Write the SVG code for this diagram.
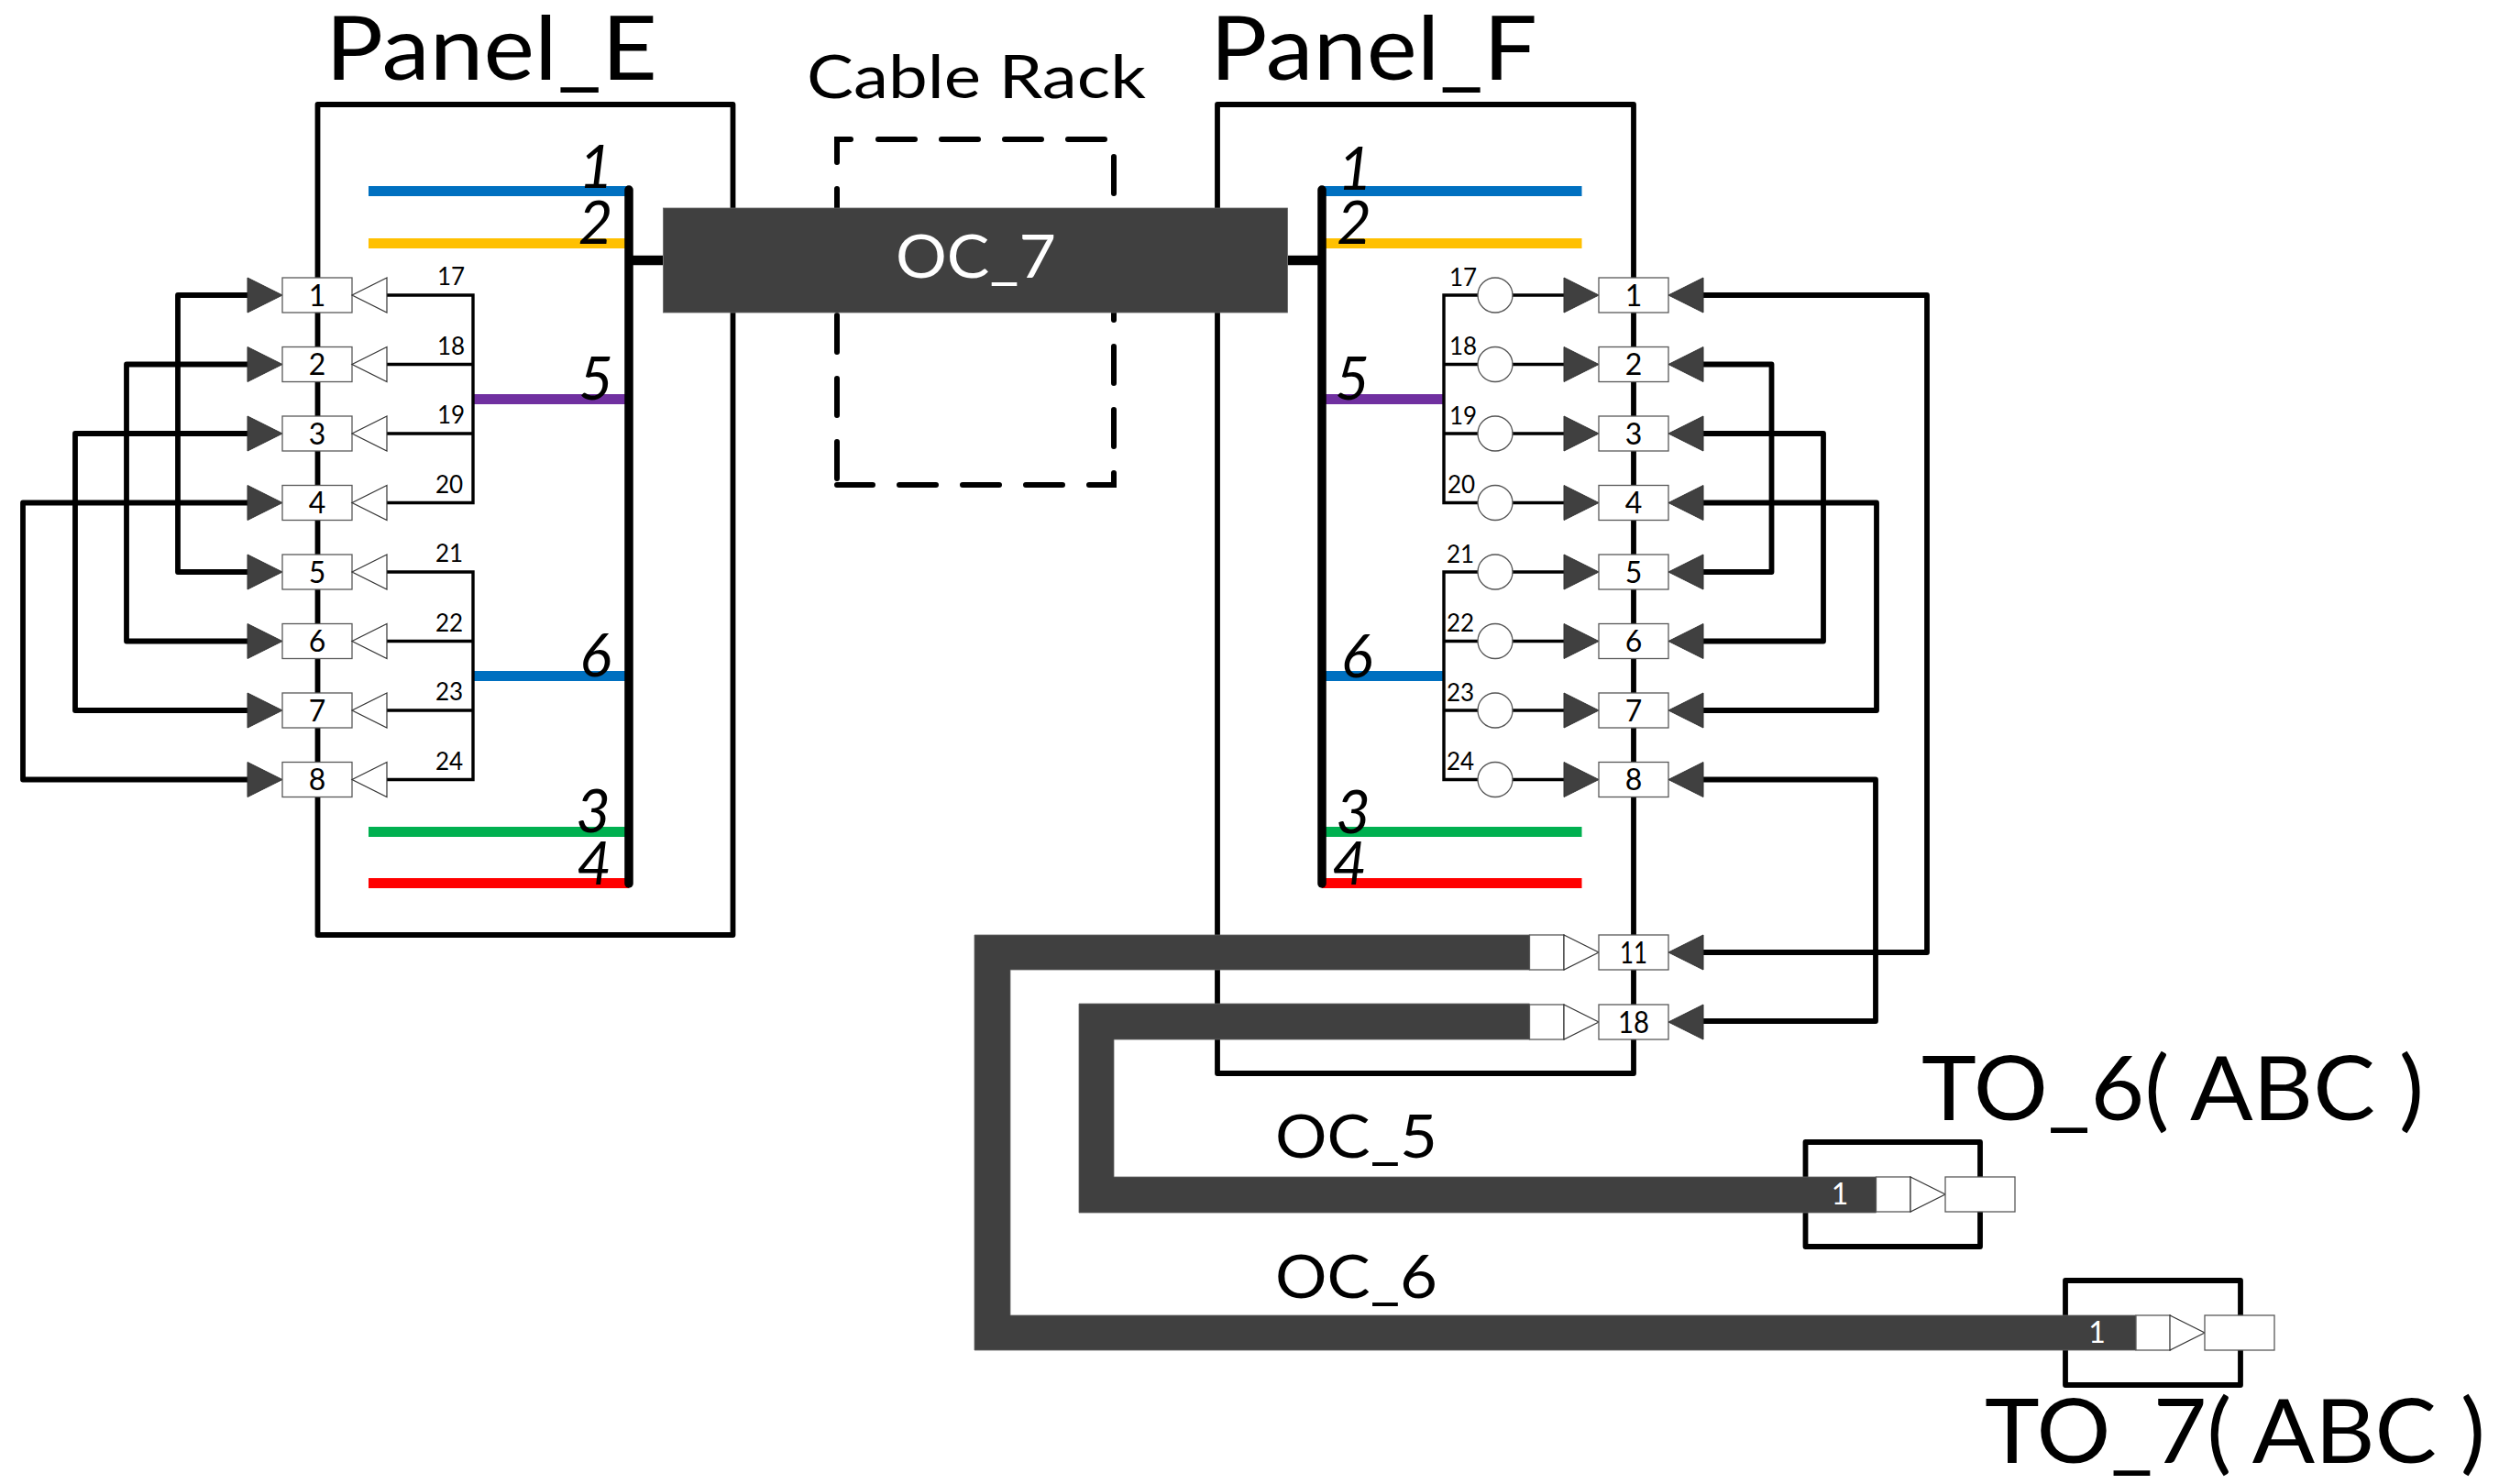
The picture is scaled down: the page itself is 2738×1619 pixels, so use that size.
<svg xmlns="http://www.w3.org/2000/svg" width="2738" height="1619" viewBox="0 0 2738 1619">
<style>
text{font-family:"Lato","Liberation Sans",sans-serif;fill:#000;font-weight:400}
.title{font-size:96px}
.mid{font-size:65px}
.bus{font-size:65px;font-style:italic;text-anchor:middle}
.port{font-size:32px;text-anchor:middle}
.sm{font-size:26px}
.wh{fill:#fff}
.frame{fill:none;stroke:#000;stroke-width:5.8;stroke-linejoin:round}
.conn{fill:none;stroke:#000;stroke-width:5.8;stroke-linejoin:round;stroke-linecap:round}
.thin{fill:none;stroke:#000;stroke-width:3.4}
.dash{fill:none;stroke:#000;stroke-width:6;stroke-linecap:round;stroke-linejoin:miter;stroke-dasharray:40 29}
.bus-line{fill:none;stroke:#000;stroke-width:9.5;stroke-linecap:round}
.stub{fill:none;stroke:#000;stroke-width:10.5}
.box{fill:#fff;stroke:#595959;stroke-width:1.3}
.wa{fill:#fff;stroke:#333;stroke-width:1.2}
.da{fill:#404040;stroke:#333;stroke-width:1}
.cable{fill:#404040;stroke:#666;stroke-width:.8}
.c1{fill:#0070C0}.c2{fill:#FFC000}.c3{fill:#7030A0}.c4{fill:#00B050}.c5{fill:#FF0000}
</style>
<defs>
<polygon id="dr" class="da" points="-38,-19 0,0 -38,19"/>
<polygon id="dl" class="da" points="38,-19 0,0 38,19"/>
<polygon id="wl" class="wa" points="38,-19 0,0 38,19"/>
<polygon id="wr" class="wa" points="-38,-19 0,0 -38,19"/>
<rect id="pb" class="box" x="-38" y="-19" width="76" height="38"/>
<ellipse id="ci" cx="1631" cy="0" rx="19" ry="19" fill="#fff" stroke="#555" stroke-width="1.3"/>
</defs>

<g id="panel-e-frame"><rect class="frame" x="346.5" y="114" width="453" height="906"/></g>
<g id="panel-f-frame"><rect class="frame" x="1328" y="114" width="454" height="1057"/></g>
<g id="cable-rack-frame">
<path class="dash" d="M958 152H1215V529H913"/>
<path class="dash" d="M913 522V152H930"/>
</g>
<g id="to-6-frame"><rect class="frame" x="1969.5" y="1246" width="190.5" height="114"/></g>
<g id="to-7-frame"><rect class="frame" x="2253" y="1397" width="191" height="114"/></g>

<g id="connectors">
<rect class="c1" x="402" y="203" width="284" height="11"/>
<rect class="c2" x="402" y="260" width="284" height="11"/>
<rect class="c3" x="516" y="430" width="170" height="11"/>
<rect class="c1" x="516" y="732" width="170" height="11"/>
<rect class="c4" x="402" y="902" width="284" height="11"/>
<rect class="c5" x="402" y="958" width="284" height="11"/>
<rect class="c1" x="1442" y="203" width="283.500" height="11"/>
<rect class="c2" x="1442" y="260" width="283.500" height="11"/>
<rect class="c3" x="1442" y="430" width="133" height="11"/>
<rect class="c1" x="1442" y="732" width="133" height="11"/>
<rect class="c4" x="1442" y="902" width="283.500" height="11"/>
<rect class="c5" x="1442" y="958" width="283.500" height="11"/>
<path class="bus-line" d="M686 207V964"/>
<path class="bus-line" d="M1442 207V964"/>
<path class="stub" d="M686 284H723M1405 284H1442"/>
<path class="thin" d="M421 322H516V548.500H421M421 397.500H516M421 473H516M421 624H516V850.500H421M421 699.500H516M421 775H516"/>
<path class="thin" d="M1706 322H1575V548.500H1706M1706 397.500H1575M1706 473H1575M1706 624H1575V850.500H1706M1706 699.500H1575M1706 775H1575"/>
<path class="conn" d="M270 322H194V624H270"/>
<path class="conn" d="M270 397.500H138V699.500H270"/>
<path class="conn" d="M270 473H82V775H270"/>
<path class="conn" d="M270 548.500H25V850.500H270"/>
<path class="conn" d="M1857 322H2102V1039H1857"/>
<path class="conn" d="M1857 397.500H1932.500V624H1857"/>
<path class="conn" d="M1857 473H1989V699.500H1857"/>
<path class="conn" d="M1857 548.500H2047V775H1857"/>
<path class="conn" d="M1857 850.500H2046V1114H1857"/>
<polygon class="cable" points="1063,1020 1668.500,1020 1668.500,1058 1102,1058 1102,1435 2330,1435 2330,1473 1063,1473"/>
<polygon class="cable" points="1177,1095 1668.500,1095 1668.500,1134 1215,1134 1215,1284 2046.500,1284 2046.500,1323 1177,1323"/>
</g>

<g id="oc-7"><rect class="cable" x="723.500" y="227" width="681" height="114"/><text class="mid wh" x="977" y="303" textLength="175" lengthAdjust="spacingAndGlyphs">OC_7</text></g>

<g id="panel-e">
<text class="title" x="355" y="87" textLength="362" lengthAdjust="spacingAndGlyphs">Panel_E</text>
<text class="bus" x="650" y="205">1</text><text class="bus" x="649.500" y="266">2</text><text class="bus" x="650" y="436">5</text><text class="bus" x="649.500" y="738">6</text><text class="bus" x="647" y="908">3</text><text class="bus" x="648" y="965">4</text>
<text class="sm" x="477" y="311">17</text><text class="sm" x="477" y="387">18</text><text class="sm" x="477" y="462">19</text><text class="sm" x="475" y="538">20</text><text class="sm" x="475" y="613">21</text><text class="sm" x="475" y="689">22</text><text class="sm" x="475" y="764">23</text><text class="sm" x="475" y="840">24</text>
</g>
<g id="e-port-1"><use href="#dr" x="308" y="322"/><use href="#pb" x="346" y="322"/><use href="#wl" x="384" y="322"/><text class="port" x="346" y="333.500">1</text></g>
<g id="e-port-2"><use href="#dr" x="308" y="397.500"/><use href="#pb" x="346" y="397.500"/><use href="#wl" x="384" y="397.500"/><text class="port" x="346" y="409">2</text></g>
<g id="e-port-3"><use href="#dr" x="308" y="473"/><use href="#pb" x="346" y="473"/><use href="#wl" x="384" y="473"/><text class="port" x="346" y="484.500">3</text></g>
<g id="e-port-4"><use href="#dr" x="308" y="548.500"/><use href="#pb" x="346" y="548.500"/><use href="#wl" x="384" y="548.500"/><text class="port" x="346" y="560">4</text></g>
<g id="e-port-5"><use href="#dr" x="308" y="624"/><use href="#pb" x="346" y="624"/><use href="#wl" x="384" y="624"/><text class="port" x="346" y="635.500">5</text></g>
<g id="e-port-6"><use href="#dr" x="308" y="699.500"/><use href="#pb" x="346" y="699.500"/><use href="#wl" x="384" y="699.500"/><text class="port" x="346" y="711">6</text></g>
<g id="e-port-7"><use href="#dr" x="308" y="775"/><use href="#pb" x="346" y="775"/><use href="#wl" x="384" y="775"/><text class="port" x="346" y="786.500">7</text></g>
<g id="e-port-8"><use href="#dr" x="308" y="850.500"/><use href="#pb" x="346" y="850.500"/><use href="#wl" x="384" y="850.500"/><text class="port" x="346" y="862">8</text></g>

<g id="panel-f">
<text class="title" x="1320" y="87" textLength="357" lengthAdjust="spacingAndGlyphs">Panel_F</text>
<text class="bus" x="1478" y="207">1</text><text class="bus" x="1477" y="266">2</text><text class="bus" x="1475" y="436">5</text><text class="bus" x="1480" y="739">6</text><text class="bus" x="1476" y="909">3</text><text class="bus" x="1472" y="965">4</text>
<text class="sm" x="1581" y="312">17</text><text class="sm" x="1581" y="387">18</text><text class="sm" x="1581" y="463">19</text><text class="sm" x="1579" y="538">20</text><text class="sm" x="1578" y="614">21</text><text class="sm" x="1578" y="689">22</text><text class="sm" x="1578" y="765">23</text><text class="sm" x="1578" y="840">24</text>
</g>
<g id="f-port-1"><use href="#ci" y="322"/><use href="#dr" x="1744" y="322"/><use href="#pb" x="1782" y="322"/><use href="#dl" x="1820" y="322"/><text class="port" x="1782" y="333.500">1</text></g>
<g id="f-port-2"><use href="#ci" y="397.500"/><use href="#dr" x="1744" y="397.500"/><use href="#pb" x="1782" y="397.500"/><use href="#dl" x="1820" y="397.500"/><text class="port" x="1782" y="409">2</text></g>
<g id="f-port-3"><use href="#ci" y="473"/><use href="#dr" x="1744" y="473"/><use href="#pb" x="1782" y="473"/><use href="#dl" x="1820" y="473"/><text class="port" x="1782" y="484.500">3</text></g>
<g id="f-port-4"><use href="#ci" y="548.500"/><use href="#dr" x="1744" y="548.500"/><use href="#pb" x="1782" y="548.500"/><use href="#dl" x="1820" y="548.500"/><text class="port" x="1782" y="560">4</text></g>
<g id="f-port-5"><use href="#ci" y="624"/><use href="#dr" x="1744" y="624"/><use href="#pb" x="1782" y="624"/><use href="#dl" x="1820" y="624"/><text class="port" x="1782" y="635.500">5</text></g>
<g id="f-port-6"><use href="#ci" y="699.500"/><use href="#dr" x="1744" y="699.500"/><use href="#pb" x="1782" y="699.500"/><use href="#dl" x="1820" y="699.500"/><text class="port" x="1782" y="711">6</text></g>
<g id="f-port-7"><use href="#ci" y="775"/><use href="#dr" x="1744" y="775"/><use href="#pb" x="1782" y="775"/><use href="#dl" x="1820" y="775"/><text class="port" x="1782" y="786.500">7</text></g>
<g id="f-port-8"><use href="#ci" y="850.500"/><use href="#dr" x="1744" y="850.500"/><use href="#pb" x="1782" y="850.500"/><use href="#dl" x="1820" y="850.500"/><text class="port" x="1782" y="862">8</text></g>
<g id="f-port-11"><rect class="box" x="1668.500" y="1020" width="37.500" height="38"/><use href="#wr" x="1744" y="1039"/><use href="#pb" x="1782" y="1039"/><use href="#dl" x="1820" y="1039"/><text class="port" x="1782" y="1050.500" textLength="30" lengthAdjust="spacingAndGlyphs">11</text></g>
<g id="f-port-18"><rect class="box" x="1668.500" y="1096" width="37.500" height="38"/><use href="#wr" x="1744" y="1115"/><use href="#pb" x="1782" y="1115"/><use href="#dl" x="1820" y="1115"/><text class="port" x="1782" y="1126.500" textLength="34" lengthAdjust="spacingAndGlyphs">18</text></g>

<g id="cable-rack"><text class="mid" x="880" y="107" textLength="370" lengthAdjust="spacingAndGlyphs">Cable Rack</text></g>
<g id="oc-5"><text class="mid" x="1391" y="1263" textLength="177" lengthAdjust="spacingAndGlyphs">OC_5</text></g>
<g id="oc-6"><text class="mid" x="1391" y="1416" textLength="177" lengthAdjust="spacingAndGlyphs">OC_6</text></g>

<g id="to-6">
<text class="title" x="2096" y="1222" textLength="548" lengthAdjust="spacingAndGlyphs">TO_6( ABC )</text>
<rect class="box" x="2046.500" y="1284" width="37.500" height="38"/><use href="#wr" x="2122" y="1303"/><rect class="box" x="2122" y="1284" width="76" height="38"/>
<text class="port wh" x="2007" y="1314">1</text>
</g>
<g id="to-7">
<text class="title" x="2165" y="1596" textLength="546" lengthAdjust="spacingAndGlyphs">TO_7( ABC )</text>
<rect class="box" x="2330" y="1435" width="37.500" height="38"/><use href="#wr" x="2405" y="1454"/><rect class="box" x="2405" y="1435" width="76" height="38"/>
<text class="port wh" x="2287.500" y="1465">1</text>
</g>
</svg>
